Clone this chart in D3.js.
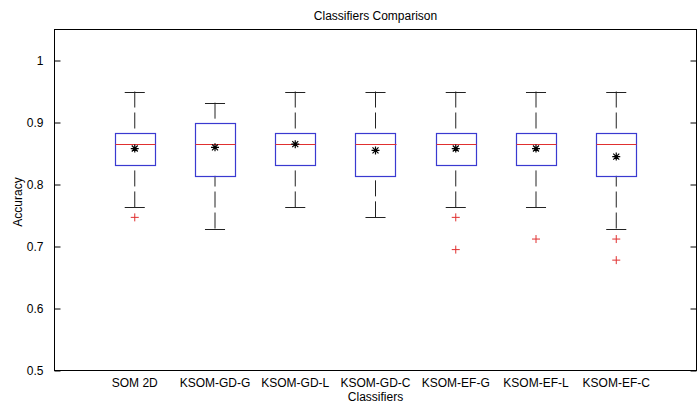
<!DOCTYPE html>
<html>
<head>
<meta charset="utf-8">
<script src="https://cdn.jsdelivr.net/npm/d3@7"></script>
<style>
  body { margin: 0; background: #fff; }
  svg { display: block; }
  text { font-family: "Liberation Sans", Arial, sans-serif; font-size: 12px; fill: #000; }
</style>
</head>
<body>
<svg id="chart" width="697" height="403"></svg>
<script>
const categories = ["SOM 2D", "KSOM-GD-G", "KSOM-GD-L", "KSOM-GD-C", "KSOM-EF-G", "KSOM-EF-L", "KSOM-EF-C"];
const upperWhisker = [0.950, 0.932, 0.950, 0.950, 0.950, 0.950, 0.950];
const q3 =           [0.883, 0.899, 0.883, 0.883, 0.883, 0.883, 0.883];
const medians =      [0.865, 0.865, 0.865, 0.865, 0.865, 0.865, 0.865];
const means =        [0.858, 0.860, 0.865, 0.855, 0.858, 0.858, 0.845];
const q1 =           [0.831, 0.814, 0.831, 0.814, 0.831, 0.831, 0.814];
const lowerWhisker = [0.763, 0.729, 0.763, 0.747, 0.763, 0.763, 0.729];
const outliers =     [[0.747], [], [], [], [0.747, 0.695], [0.712], [0.712, 0.678]];
const yTicks = [0.5, 0.6, 0.7, 0.8, 0.9, 1];

const svg = d3.select("#chart");
const L = 54.5, R = 696.5, T = 29.5, B = 370.5;

const x = d3.scaleLinear().domain([0, categories.length + 1]).range([L, R]);
const y = d3.scaleLinear().domain([0.5, 1.05]).range([B, T]);

const boxW = x(0.5) - x(0);
const capW = x(0.25) - x(0);

// axes frame
svg.append("rect").attr("x", L).attr("y", T).attr("width", R - L).attr("height", B - T)
  .attr("fill", "none").attr("stroke", "#000").attr("stroke-width", 1);

// y axis (ticks inward) left
const yAxisL = d3.axisLeft(y).tickValues(yTicks).tickSize(-6).tickPadding(11)
  .tickFormat(d => d === 1 ? "1" : d3.format(".1f")(d));
const gL = svg.append("g").attr("transform", `translate(${L},0)`).call(yAxisL);
gL.select(".domain").remove();
gL.selectAll("line").attr("stroke", "#000");
gL.selectAll("text").style("font-size", "12px").attr("fill", "#000");

// right ticks
const yAxisR = d3.axisRight(y).tickValues(yTicks).tickSize(-6).tickFormat("");
const gR = svg.append("g").attr("transform", `translate(${R},0)`).call(yAxisR);
gR.select(".domain").remove();
gR.selectAll("line").attr("stroke", "#000");

// category labels
svg.append("g").selectAll("text").data(categories).join("text")
  .attr("x", (d, i) => x(i + 1)).attr("y", 387)
  .attr("text-anchor", "middle").text(d => d);

// title & axis labels
svg.append("text").attr("x", (L + R) / 2).attr("y", 20).attr("text-anchor", "middle").text("Classifiers Comparison");
svg.append("text").attr("x", (L + R) / 2).attr("y", 401).attr("text-anchor", "middle").text("Classifiers");
svg.append("text").attr("transform", `translate(22,${(T + B) / 2 + 2}) rotate(-90)`).attr("text-anchor", "middle").text("Accuracy");

const whiskerColor = "#222";
categories.forEach((c, i) => {
  const cx = x(i + 1);
  const g = svg.append("g");
  // whiskers dashed, pattern starting at cap
  g.append("line").attr("x1", cx).attr("x2", cx).attr("y1", y(upperWhisker[i])).attr("y2", y(q3[i]))
    .attr("stroke", whiskerColor).attr("stroke-dasharray", "16,5");
  g.append("line").attr("x1", cx).attr("x2", cx).attr("y1", y(lowerWhisker[i])).attr("y2", y(q1[i]))
    .attr("stroke", whiskerColor).attr("stroke-dasharray", "16,5");
  // caps
  [upperWhisker[i], lowerWhisker[i]].forEach(v => {
    g.append("line").attr("x1", cx - capW / 2).attr("x2", cx + capW / 2)
      .attr("y1", Math.round(y(v)) + 0.5).attr("y2", Math.round(y(v)) + 0.5).attr("stroke", whiskerColor);
  });
  // box
  const yt = Math.round(y(q3[i])) + 0.5, yb = Math.round(y(q1[i])) + 0.5;
  g.append("rect").attr("x", Math.round(cx - boxW / 2) + 0.5).attr("y", yt)
    .attr("width", Math.round(boxW)).attr("height", yb - yt)
    .attr("fill", "none").attr("stroke", "#3a3ad0").attr("stroke-width", 1.2);
  // median
  const ym = Math.round(y(medians[i])) + 0.5;
  g.append("line").attr("x1", Math.round(cx - boxW / 2) + 0.5).attr("x2", Math.round(cx + boxW / 2) + 0.5)
    .attr("y1", ym).attr("y2", ym).attr("stroke", "#e03030").attr("stroke-width", 1.2);
  // outliers
  outliers[i].forEach(v => {
    const oy = y(v), s = 4;
    g.append("path").attr("d", `M${cx - s},${oy}H${cx + s}M${cx},${oy - s}V${oy + s}`)
      .attr("stroke", "#e03030").attr("stroke-width", 1);
  });
  // mean star
  const my = y(means[i]), s = 4, d = 3;
  g.append("path").attr("d",
    `M${cx - s},${my}H${cx + s}M${cx},${my - s}V${my + s}M${cx - d},${my - d}L${cx + d},${my + d}M${cx - d},${my + d}L${cx + d},${my - d}`)
    .attr("stroke", "#000").attr("stroke-width", 1.2);
});
</script>
</body>
</html>
